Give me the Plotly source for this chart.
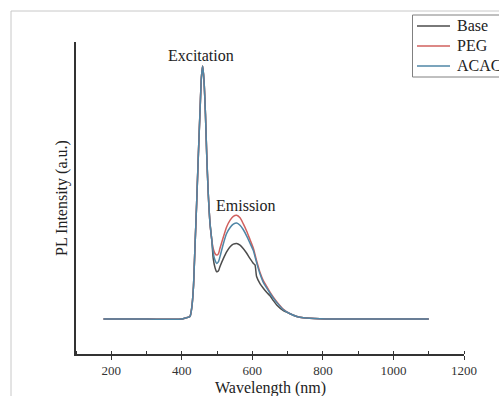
import plotly.graph_objects as go

# Wavelength grid (nm)
wavelength = [178, 300, 400, 410, 423, 428, 433, 437, 442, 447, 452, 455.5, 459, 463, 467,
              470.5, 475, 480, 485, 489, 494, 499, 504, 508, 518, 527, 537, 546, 555.5,
              565, 574, 584, 593, 603, 607.5, 612, 622, 631, 641, 650, 659.5, 669, 688,
              707, 726, 745, 792, 839, 1000, 1100]

base = [0, 0, 0, 0.004, 0.010, 0.043, 0.128, 0.273, 0.456, 0.653, 0.836, 0.954, 1.0, 0.941,
        0.81, 0.653, 0.495, 0.377, 0.312, 0.240, 0.204, 0.187, 0.191, 0.207, 0.240, 0.266,
        0.286, 0.296, 0.299, 0.292, 0.279, 0.260, 0.240, 0.220, 0.214, 0.168, 0.139, 0.122,
        0.105, 0.092, 0.073, 0.056, 0.033, 0.021, 0.010, 0.005, 0.001, 0, 0, 0]

peg = [0, 0, 0, 0.004, 0.010, 0.043, 0.128, 0.273, 0.456, 0.653, 0.836, 0.954, 1.0, 0.941,
       0.81, 0.653, 0.495, 0.377, 0.312, 0.279, 0.259, 0.253, 0.259, 0.279, 0.325, 0.364,
       0.391, 0.406, 0.410, 0.400, 0.377, 0.347, 0.315, 0.279, 0.255, 0.231, 0.183, 0.152,
       0.128, 0.106, 0.087, 0.069, 0.039, 0.021, 0.010, 0.005, 0.001, 0, 0, 0]

acac = [0, 0, 0, 0.004, 0.010, 0.043, 0.128, 0.273, 0.456, 0.653, 0.836, 0.954, 1.0, 0.941,
        0.81, 0.653, 0.495, 0.377, 0.312, 0.262, 0.233, 0.220, 0.227, 0.246, 0.299, 0.338,
        0.362, 0.375, 0.380, 0.371, 0.354, 0.328, 0.301, 0.270, 0.247, 0.223, 0.177, 0.145,
        0.122, 0.102, 0.083, 0.066, 0.037, 0.021, 0.010, 0.005, 0.001, 0, 0, 0]

series_names = ["Base", "PEG", "ACAC"]
series_colors = ["#4d4d4d", "#d0605e", "#4f86a6"]
x_ticks = [200, 400, 600, 800, 1000, 1200]

FONT = "Liberation Serif, Times New Roman, serif"

W, H = 499, 396
ml, mr, mt, mb = 76, 35, 42, 42
PW, PH = W - ml - mr, H - mt - mb


def px_x(p):
    return (p - ml) / PW


def px_y(p):
    return (H - mb - p) / PH


fig = go.Figure()
for name, vals, col in zip(series_names, [base, peg, acac], series_colors):
    fig.add_trace(go.Scatter(x=wavelength, y=vals, mode="lines", name=name,
                             line=dict(color=col, width=1.5, shape="spline", smoothing=0.6),
                             showlegend=False))

shapes = [
    # outer frame of the original figure
    dict(type="line", xref="paper", yref="paper", x0=px_x(11), x1=px_x(510),
         y0=px_y(11), y1=px_y(11), line=dict(color="#c8c8c8", width=1)),
    dict(type="line", xref="paper", yref="paper", x0=px_x(11), x1=px_x(11),
         y0=px_y(11), y1=px_y(410), line=dict(color="#c8c8c8", width=1)),
    # legend box
    dict(type="rect", xref="paper", yref="paper", x0=px_x(412.5), x1=px_x(520),
         y0=px_y(15), y1=px_y(77), line=dict(color="#808080", width=1),
         fillcolor="rgba(0,0,0,0)"),
]
annotations = [
    dict(x=454, y=1.04, xref="x", yref="y", text="Excitation", showarrow=False,
         font=dict(family=FONT, size=16, color="#222")),
    dict(x=582, y=0.45, xref="x", yref="y", text="Emission", showarrow=False,
         font=dict(family=FONT, size=16, color="#222")),
    dict(x=px_x(270), y=px_y(388), xref="paper", yref="paper", text="Wavelength (nm)",
         showarrow=False, font=dict(family=FONT, size=16, color="#222"),
         xanchor="center", yanchor="middle"),
    dict(x=px_x(62), y=px_y(198), xref="paper", yref="paper", text="PL Intensity (a.u.)",
         showarrow=False, textangle=-90, font=dict(family=FONT, size=16, color="#222"),
         xanchor="center", yanchor="middle"),
]
legend_rows = [26, 46, 66]
for name, col, yy in zip(series_names, series_colors, legend_rows):
    shapes.append(dict(type="line", xref="paper", yref="paper", x0=px_x(417), x1=px_x(450),
                       y0=px_y(yy), y1=px_y(yy), line=dict(color=col, width=1.5)))
    annotations.append(dict(x=px_x(455), y=px_y(yy), xref="paper", yref="paper", text=name,
                            showarrow=False, xanchor="left", yanchor="middle",
                            font=dict(family=FONT, size=16, color="#222")))

fig.update_layout(
    width=W, height=H,
    margin=dict(l=ml, r=mr, t=mt, b=mb),
    paper_bgcolor="white", plot_bgcolor="white",
    font=dict(family=FONT, color="#222", size=13),
    showlegend=False,
    xaxis=dict(range=[100, 1200], tickvals=x_ticks, ticks="outside", ticklen=4,
               tickcolor="#333", showline=True, linecolor="#333", linewidth=1.5,
               showgrid=False, zeroline=False, mirror=False,
               tickfont=dict(family=FONT, size=13, color="#333"),
               minor=dict(dtick=100, ticks="inside", ticklen=3, tickcolor="#333")),
    yaxis=dict(range=[-0.138, 1.095], showticklabels=False, ticks="",
               showline=True, linecolor="#333", linewidth=1.5,
               showgrid=False, zeroline=False),
    annotations=annotations,
    shapes=shapes,
)

fig.write_html("out.html", config={"displayModeBar": False},
               post_script="document.body.style.margin='0';document.body.style.overflow='hidden';")
